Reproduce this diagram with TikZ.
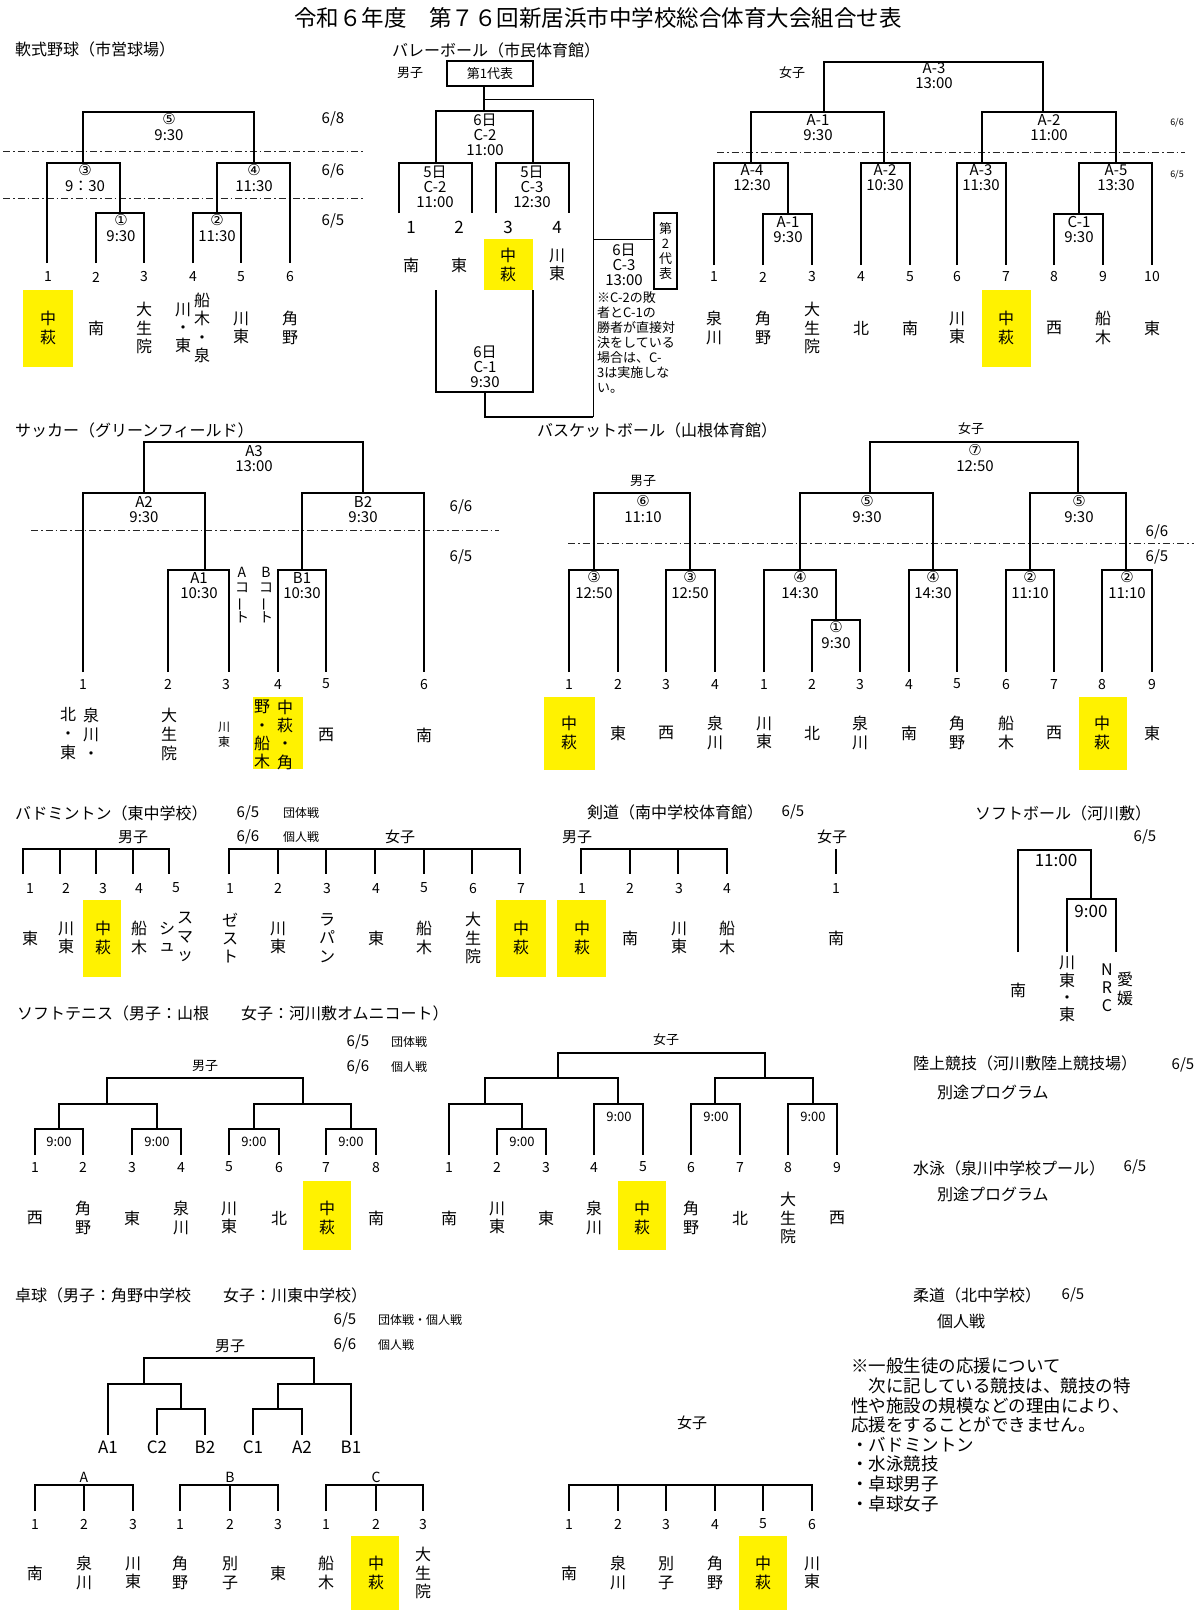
\documentclass[tikz,border=0pt]{standalone}
\usepackage{fontspec}
\setmainfont{Noto Sans CJK JP}
\newfontfamily\dvfont{DejaVu Sans}
\newcommand\myfs[2]{\fontsize{#1}{#2}\selectfont}
\tikzset{
  br/.style={line width=1.4pt},
  lt/.style={line width=0.8pt},
  dd/.style={line width=0.7pt, black!85, dash pattern=on 7pt off 3pt on 1.5pt off 3pt},
  ttl/.style={font=\myfs{22.5}{26}, inner sep=0},
  hd/.style={font=\myfs{16}{18}, anchor=west, inner sep=0},
  nm/.style={font=\myfs{16}{18.3}, align=center, inner sep=0},
  no/.style={font=\myfs{14}{16}, inner sep=0},
  tm/.style={font=\myfs{15}{15}, align=center, inner sep=0},
  ci/.style={font=\dvfont\myfs{15}{15}, inner sep=0},
  dt/.style={font=\myfs{15}{16}, inner sep=0},
  sm/.style={font=\myfs{13}{15}, inner sep=0},
  xs/.style={font=\myfs{12}{14}, inner sep=0, anchor=west},
}
\begin{document}
\begin{tikzpicture}[x=1pt,y=-1pt]
\useasboundingbox (0,0) rectangle (1200,1610);
\fill[white] (0,0) rectangle (1200,1610);
% yellow highlights
\foreach \a/\b/\c/\d in {23/290/73/367, 484/239/533/290, 982/290/1031/367, 253/697/303/769, 544/697/595/770, 1079/697/1127/770, 83/900/121/977, 496/900/546/977, 557/900/606/977, 303/1181/351/1250, 618/1181/666/1250, 351/1536/399/1610, 739/1536/787/1610}
  \fill[yellow] (\a,\b) rectangle (\c,\d);
\node[ttl] (title) at (598,18) {令和６年度　第７６回新居浜市中学校総合体育大会組合せ表};

% ===== 軟式野球 =====
\node[hd] (h1) at (15,49) {軟式野球（市営球場）};
\draw[dd] (3,151) -- (363,151);
\draw[dd] (3,198) -- (363,198);
\draw[br] (83,163) |- (254,112) -- (254,163);
\draw[br] (47,263) |- (120,163) -- (120,213);
\draw[br] (217,213) |- (290,163) -- (290,263);
\draw[br] (96,263) |- (144,213) -- (144,263);
\draw[br] (193,263) |- (241,213) -- (241,263);
\node[ci] (a5c) at (169,119) {⑤}; \node[tm] (a5t) at (169,135) {9:30};
\node[ci] (a3c) at (85,170) {③}; \node[tm] (a3t) at (85,186) {9：30};
\node[ci] (a4c) at (254,170) {④}; \node[tm] (a4t) at (254,186) {11:30};
\node[ci] (a1c) at (121,220) {①}; \node[tm] (a1t) at (121,236) {9:30};
\node[ci] (a2c) at (217,220) {②}; \node[tm] (a2t) at (217,236) {11:30};
\node[dt] (ad1) at (333,119) {6/8};
\node[dt] (ad2) at (333,171) {6/6};
\node[dt] (ad3) at (333,221) {6/5};
\foreach \x [count=\i] in {48,96,144,193,241,290} \node[no] (an\i) at (\x,277) {\i};
\foreach \x/\t [count=\i] in {48/{中\\萩},96/南,144/{大\\生\\院},183/{川\\・\\東},202/{船\\木\\・\\泉},241/{川\\東},290/{角\\野}} \node[nm] (at\i) at (\x,328) {\t};

% ===== バレーボール 男子 =====
\node[hd] (h2) at (392,50) {バレーボール（市民体育館）};
\node[sm] (vb) at (410,73) {男子};
\node[draw, line width=1.4pt, minimum width=86pt, minimum height=25pt, inner sep=0, font=\myfs{13}{15}] (v1) at (490,73.5) {第1代表};
\coordinate (vtop) at (484,111);
\draw[br] (vtop |- v1.south) -- (vtop);
\draw[br] (436,163) |- (533,111) -- (533,163);
\draw[br] (399,213) |- (472,163) -- (472,213);
\draw[br] (496,213) |- (569,163) -- (569,213);
\node[tm] (vc2) at (485,135) {6日\\C-2\\11:00};
\node[tm] (vl) at (435,187) {5日\\C-2\\11:00};
\node[tm] (vr) at (532,187) {5日\\C-3\\12:30};
\foreach \x [count=\i] in {411,459,508,557} \node[no, font=\myfs{17}{18}] (vn\i) at (\x,227) {\i};
\foreach \x/\t [count=\i] in {411/南,459/東,508/{中\\萩},557/{川\\東}} \node[nm] (vt\i) at (\x,265) {\t};
\draw[br] (436,290) |- (533,392) -- (533,290);
\node[tm] (vc1) at (485,367) {6日\\C-1\\9:30};
\draw[lt] (484,99) -| (593,417);
\draw[br] (485,392) |- (593,417);
\node[draw, line width=1.4pt, minimum width=23pt, minimum height=76pt, inner sep=0, align=center, font=\myfs{13}{15}] (v2) at (665.5,251) {第\\2\\代\\表};
\coordinate (vj) at (593,239);
\draw[lt] (vj) -- (vj -| v2.west);
\node[tm] (vc3) at (624,265) {6日\\C-3\\13:00};
\node[anchor=north west, align=left, inner sep=0, font=\myfs{13}{15}] (vnote) at (597,291) {※C-2の敗\\者とC-1の\\勝者が直接対\\決をしている\\場合は、C-\\3は実施しな\\い。};

% ===== バレーボール 女子 =====
\node[sm] (vg) at (792,73) {女子};
\draw[dd] (717,152) -- (1185,152);
\draw[br] (824,112) |- (1043,62) -- (1043,112);
\draw[br] (751,163) |- (884,112) -- (884,163);
\draw[br] (982,163) |- (1116,112) -- (1116,163);
\draw[br] (714,265) |- (788,163) -- (788,214);
\draw[br] (763,265) |- (812,214) -- (812,265);
\draw[br] (861,265) |- (910,163) -- (910,265);
\draw[br] (957,265) |- (1006,163) -- (1006,265);
\draw[br] (1079,214) |- (1152,163) -- (1152,265);
\draw[br] (1054,265) |- (1103,214) -- (1103,265);
\node[tm] (g1) at (934,76) {A-3\\13:00};
\node[tm] (g2) at (818,127.5) {A-1\\9:30};
\node[tm] (g3) at (1049,127.5) {A-2\\11:00};
\node[tm] (g4) at (752,178) {A-4\\12:30};
\node[tm] (g5) at (788,229.5) {A-1\\9:30};
\node[tm] (g6) at (885,178) {A-2\\10:30};
\node[tm] (g7) at (981,178) {A-3\\11:30};
\node[tm] (g8) at (1116,178) {A-5\\13:30};
\node[tm] (g9) at (1079,229.5) {C-1\\9:30};
\node[font=\myfs{9}{10}, inner sep=0] (gd1) at (1177,123) {6/6};
\node[font=\myfs{9}{10}, inner sep=0] (gd2) at (1177,175) {6/5};
\foreach \x [count=\i] in {714,763,812,861,910,957,1006,1054,1103,1152} \node[no] (gn\i) at (\x,277) {\i};
\foreach \x/\t [count=\i] in {714/{泉\\川},763/{角\\野},812/{大\\生\\院},861/北,910/南,957/{川\\東},1006/{中\\萩},1054/西,1103/{船\\木},1152/東} \node[nm] (gt\i) at (\x,328) {\t};

% ===== サッカー =====
\node[hd] (h3) at (15,430) {サッカー（グリーンフィールド）};
\draw[dd] (31,530) -- (499,530);
\draw[br] (144,493) |- (363,442) -- (363,493);
\draw[br] (83,672) |- (205,493) -- (205,570);
\draw[br] (302,570) |- (424,493) -- (424,672);
\draw[br] (168,672) |- (229,570) -- (229,672);
\draw[br] (278,672) |- (326,570) -- (326,672);
\node[tm] (s1) at (254,458.5) {A3\\13:00};
\node[tm] (s2) at (144,509.5) {A2\\9:30};
\node[tm] (s3) at (363,509.5) {B2\\9:30};
\node[tm] (s4) at (199,585.5) {A1\\10:30};
\node[tm] (s5) at (302,585.5) {B1\\10:30};
\node[dt] (sd1) at (461,507) {6/6};
\node[dt] (sd2) at (461,557) {6/5};
\node[tm, font=\myfs{14}{15}] (sa) at (242,595.5) {A\\コ\\\rotatebox[origin=c]{90}{ー}\\ト};
\node[tm, font=\myfs{14}{15}] (sb) at (266,595.5) {B\\コ\\\rotatebox[origin=c]{90}{ー}\\ト};
\foreach \x [count=\i] in {83,168,226,278,326,424} \node[no] (sn\i) at (\x,684) {\i};
\node[nm, font=\myfs{16}{19}] (st1) at (68,734) {北\\・\\東};
\node[nm, font=\myfs{16}{19}] (st2) at (91,734) {泉\\川\\・};
\node[nm, font=\myfs{16}{19}] (st3) at (169,734) {大\\生\\院};
\node[nm, font=\myfs{12}{15}] (st4) at (224,734.5) {川\\東};
\node[nm] (st5) at (285,734.5) {中\\萩\\・\\角};
\node[nm] (st6) at (262,734.5) {野\\・\\船\\木};
\node[nm] (st7) at (326,735) {西};
\node[nm] (st8) at (424,735) {南};

% ===== バスケットボール =====
\node[hd] (h4) at (537,430) {バスケットボール（山根体育館）};
\node[sm] (bg) at (971,429) {女子};
\node[sm] (bb) at (643,481) {男子};
\draw[dd] (568,543) -- (1194,543);
\draw[br] (870,493) |- (1078,442) -- (1078,493);
\draw[br] (594,570) |- (690,493) -- (690,570);
\draw[br] (800,570) |- (933,493) -- (933,570);
\draw[br] (1030,570) |- (1126,493) -- (1126,570);
\draw[br] (569,672) |- (618,570) -- (618,672);
\draw[br] (666,672) |- (715,570) -- (715,672);
\draw[br] (764,672) |- (836,570) -- (836,620);
\draw[br] (812,672) |- (860,620) -- (860,672);
\draw[br] (909,672) |- (957,570) -- (957,672);
\draw[br] (1006,672) |- (1054,570) -- (1054,672);
\draw[br] (1102,672) |- (1152,570) -- (1152,672);
\foreach \x/\yy/\c/\t [count=\i] in {975/451/⑦/12:50, 643/502/⑥/11:10, 867/502/⑤/9:30, 1079/502/⑤/9:30, 594/578/③/12:50, 690/578/③/12:50, 800/578/④/14:30, 836/628/①/9:30, 933/578/④/14:30, 1030/578/②/11:10, 1127/578/②/11:10}
  {\node[ci] (bc\i) at (\x,\yy-0.5) {\c}; \node[tm] (bt\i) at (\x,\yy+15.5) {\t};}
\node[dt] (bd6) at (1157,532) {6/6};
\node[dt] (bd5) at (1157,557) {6/5};
\foreach \x/\n [count=\i] in {569/1,618/2,666/3,715/4,764/1,812/2,860/3,909/4,957/5,1006/6,1054/7,1102/8,1152/9} \node[no] (bn\i) at (\x,684) {\n};
\foreach \x/\t [count=\i] in {569/{中\\萩},618/東,666/西,715/{泉\\川},764/{川\\東},812/北,860/{泉\\川},909/南,957/{角\\野},1006/{船\\木},1054/西,1102/{中\\萩},1152/東} \node[nm] (bm\i) at (\x,733) {\t};

% ===== バドミントン =====
\node[hd] (h5) at (15,813) {バドミントン（東中学校）};
\node[dt] (dd1) at (248,813) {6/5};
\node[xs] (dd2) at (283,813) {団体戦};
\node[dt] (dd3) at (248,837) {6/6};
\node[xs] (dd4) at (283,837) {個人戦};
\node[sm, font=\myfs{15}{16}] (db) at (133,837) {男子};
\node[sm, font=\myfs{15}{16}] (dg) at (400,837) {女子};
\draw[br] (23,874) |- (169,849) -- (169,874);
\foreach \x in {60,96,133} \draw[br] (\x,849) -- (\x,874);
\draw[br] (229,874) |- (520,849) -- (520,874);
\foreach \x in {278,326,375,424,472} \draw[br] (\x,849) -- (\x,874);
\foreach \x/\n [count=\i] in {30/1,66/2,103/3,139/4,176/5,230/1,278/2,327/3,376/4,424/5,473/6,521/7} \node[no] (dn\i) at (\x,888) {\n};
\foreach \x/\t [count=\i] in {30/東,66/{川\\東},103/{中\\萩},139/{船\\木},230/{ゼ\\ス\\ト},278/{川\\東},327/{ラ\\パ\\ン},376/東,424/{船\\木},473/{大\\生\\院},521/{中\\萩}} \node[nm] (dm\i) at (\x,938) {\t};
\node[nm] (dsm1) at (185,937) {ス\\マ\\ッ};
\node[nm, font=\myfs{16}{17}] (dsm2) at (167,937) {シ\\ュ};

% ===== 剣道 =====
\node[hd] (h6) at (587,812) {剣道（南中学校体育館）};
\node[dt] (kd) at (793,812) {6/5};
\node[sm, font=\myfs{15}{16}] (kb) at (577,837) {男子};
\node[sm, font=\myfs{15}{16}] (kg) at (832,837) {女子};
\draw[br] (581,874) |- (727,849) -- (727,874);
\foreach \x in {630,678} \draw[br] (\x,849) -- (\x,874);
\draw[br] (836,849) -- (836,874);
\foreach \x/\n [count=\i] in {582/1,630/2,679/3,727/4,836/1} \node[no] (kn\i) at (\x,888) {\n};
\foreach \x/\t [count=\i] in {582/{中\\萩},630/南,679/{川\\東},727/{船\\木},836/南} \node[nm] (km\i) at (\x,938) {\t};

% ===== ソフトボール =====
\node[hd] (h7) at (975,813) {ソフトボール（河川敷）};
\node[dt] (fd) at (1145,837) {6/5};
\draw[br] (1018,952) |- (1091,850) -- (1091,899);
\draw[br] (1067,952) |- (1116,899) -- (1116,952);
\node[tm, font=\myfs{17}{17}] (f1) at (1056,860) {11:00};
\node[tm, font=\myfs{17}{17}] (f2) at (1091,911) {9:00};
\node[nm] (ft1) at (1018,990) {南};
\node[nm, font=\myfs{16}{17.3}] (ft2) at (1067,989) {川\\東\\・\\東};
\node[nm, font=\myfs{16}{18}] (ft3) at (1107,988) {N\\R\\C};
\node[nm] (ft4) at (1125,989) {愛\\媛};

% ===== ソフトテニス =====
\node[hd] (h8) at (17,1013) {ソフトテニス（男子：山根　　女子：河川敷オムニコート）};
\node[dt] (td1) at (358,1042) {6/5};
\node[xs] (td2) at (391,1042) {団体戦};
\node[dt] (td3) at (358,1067) {6/6};
\node[xs] (td4) at (391,1067) {個人戦};
\node[sm] (tb) at (205,1066) {男子};
\node[sm] (tg) at (666,1040) {女子};
\draw[br] (107,1104) |- (303,1078) -- (303,1104);
\draw[br] (59,1129) |- (157,1104) -- (157,1129);
\draw[br] (254,1129) |- (351,1104) -- (351,1129);
\draw[br] (35,1155) |- (83,1129) -- (83,1155);
\draw[br] (132,1155) |- (181,1129) -- (181,1155);
\draw[br] (229,1155) |- (279,1129) -- (279,1155);
\draw[br] (326,1155) |- (376,1129) -- (376,1155);
\draw[br] (558,1078) |- (765,1053) -- (765,1078);
\draw[br] (485,1104) |- (618,1078) -- (618,1104);
\draw[br] (715,1104) |- (813,1078) -- (813,1104);
\draw[br] (449,1155) |- (522,1104) -- (522,1129);
\draw[br] (497,1155) |- (546,1129) -- (546,1155);
\draw[br] (594,1155) |- (643,1104) -- (643,1155);
\draw[br] (691,1155) |- (740,1104) -- (740,1155);
\draw[br] (788,1155) |- (837,1104) -- (837,1155);
\foreach \x/\yy [count=\i] in {59/1142,157/1142,254/1142,351/1142,619/1117,522/1142,716/1117,813/1117} \node[tm, font=\myfs{13}{13}] (tl\i) at (\x,\yy) {9:00};
\foreach \x/\n [count=\i] in {35/1,83/2,132/3,181/4,229/5,279/6,326/7,376/8,449/1,497/2,546/3,594/4,643/5,691/6,740/7,788/8,837/9} \node[no] (tn\i) at (\x,1167) {\n};
\foreach \x/\t [count=\i] in {35/西,83/{角\\野},132/東,181/{泉\\川},229/{川\\東},279/北,327/{中\\萩},376/南,449/南,497/{川\\東},546/東,594/{泉\\川},642/{中\\萩},691/{角\\野},740/北,788/{大\\生\\院},837/西} \node[nm] (tm\i) at (\x,1218) {\t};

% ===== 右側 =====
\node[hd] (r1) at (913,1063) {陸上競技（河川敷陸上競技場）};
\node[dt] (r1d) at (1183,1065) {6/5};
\node[hd] (r2) at (937,1092) {別途プログラム};
\node[hd] (r3) at (913,1168) {水泳（泉川中学校プール）};
\node[dt] (r3d) at (1135,1167) {6/5};
\node[hd] (r4) at (937,1194) {別途プログラム};
\node[hd] (r5) at (913,1295) {柔道（北中学校）};
\node[dt] (r5d) at (1073,1295) {6/5};
\node[hd] (r6) at (937,1321) {個人戦};
\node[anchor=north west, align=left, inner sep=0, font=\myfs{17.5}{19.6}] (r7) at (851,1358) {※一般生徒の応援について\\　次に記している競技は、競技の特\\性や施設の規模などの理由により、\\応援をすることができません。\\・バドミントン\\・水泳競技\\・卓球男子\\・卓球女子};

% ===== 卓球 =====
\node[hd] (h9) at (15,1295) {卓球（男子：角野中学校　　女子：川東中学校）};
\node[dt] (pd1) at (345,1320) {6/5};
\node[xs] (pd2) at (378,1320) {団体戦・個人戦};
\node[dt] (pd3) at (345,1345) {6/6};
\node[xs] (pd4) at (378,1345) {個人戦};
\node[sm, font=\myfs{15}{16}] (pb) at (230,1346) {男子};
\draw[br] (144,1384) |- (314,1358) -- (314,1384);
\draw[br] (108,1435) |- (181,1384) -- (181,1409);
\draw[br] (278,1409) |- (351,1384) -- (351,1435);
\draw[br] (157,1435) |- (205,1409) -- (205,1435);
\draw[br] (253,1435) |- (302,1409) -- (302,1435);
\foreach \x/\t [count=\i] in {108/A1,157/C2,205/B2,253/C1,302/A2,351/B1} \node[no, font=\myfs{17}{18}] (pl\i) at (\x,1447) {\t};
\foreach \l/\a/\m/\b in {A/35/84/133, B/180/230/278, C/326/376/423} {
  \node[no] (pg\l) at (\m,1477) {\l};
  \draw[br] (\a,1511) |- (\b,1485) -- (\b,1511);
  \draw[br] (\m,1485) -- (\m,1511);
}
\foreach \x/\n [count=\i] in {35/1,84/2,133/3,180/1,230/2,278/3,326/1,376/2,423/3} \node[no] (pn\i) at (\x,1524) {\n};
\foreach \x/\t [count=\i] in {35/南,84/{泉\\川},133/{川\\東},180/{角\\野},230/{別\\子},278/東,326/{船\\木},376/{中\\萩},423/{大\\生\\院}} \node[nm] (pm\i) at (\x,1573) {\t};
\node[sm, font=\myfs{15}{16}] (qg) at (692,1423) {女子};
\draw[br] (569,1511) |- (812,1485) -- (812,1511);
\foreach \x in {618,666,715,763} \draw[br] (\x,1485) -- (\x,1511);
\foreach \x/\n [count=\i] in {569/1,618/2,666/3,715/4,763/5,812/6} \node[no] (qn\i) at (\x,1524) {\n};
\foreach \x/\t [count=\i] in {569/南,618/{泉\\川},666/{別\\子},715/{角\\野},763/{中\\萩},812/{川\\東}} \node[nm] (qm\i) at (\x,1573) {\t};
\end{tikzpicture}
\end{document}
